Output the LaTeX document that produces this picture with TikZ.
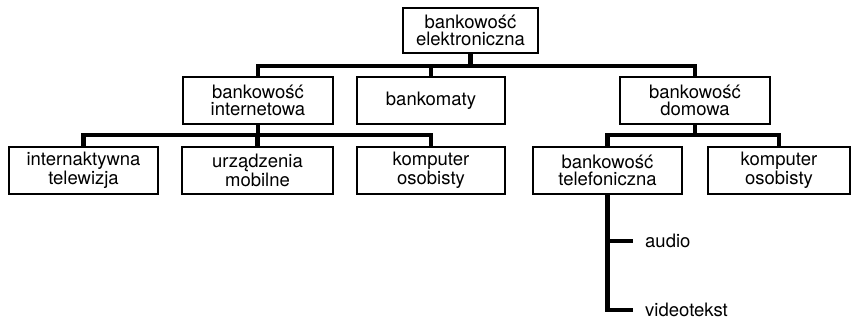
\documentclass[tikz,border=0pt]{standalone}
\usepackage{fontspec}
\setmainfont{TeX Gyre Heros}
\tikzset{
    box/.style={draw, line width=1.1pt, minimum width=150pt, minimum height=47pt,
        align=center, inner sep=0pt, font=\fontsize{18.5}{17.5}\selectfont},
    leaf/.style={anchor=west, inner sep=0pt, font=\fontsize{18.5}{17.5}\selectfont},
    bar/.style={line width=4.6pt}
}
\begin{document}
\begin{tikzpicture}[x=1pt, y=-1pt] % pixel coordinates, y downwards
    \useasboundingbox (0,0) rectangle (851,320);

    % Top of the tree
    \node[box, minimum width=135pt, minimum height=45pt] (el) at (470.5,30.5) {bankowość\\elektroniczna};

    % Second level
    \node[box] (inet) at (258,100.5) {bankowość\\internetowa};
    \node[box, minimum width=148pt] (atm) at (431,100.5) {bankomaty};
    \node[box] (dom) at (695,100.5) {bankowość\\domowa};

    % Third level
    \node[box, minimum width=149pt] (tv) at (83.5,170.5) {internaktywna\\telewizja};
    \node[box, minimum width=151pt] (mob) at (257.5,170.5) {urządzenia\\mobilne};
    \node[box, minimum width=148pt] (pc) at (431,170.5) {komputer\\osobisty};
    \node[box, minimum width=149pt] (tel) at (607.5,170.5) {bankowość\\telefoniczna};
    \node[box, minimum width=142pt] (pcdom) at (779,170.5) {komputer\\osobisty};

    % Leaves under the telephone banking
    \node[leaf] (audio) at (645,241) {audio};
    \node[leaf] (video) at (645,310) {videotekst};

    % Bars
    \coordinate (b1) at (470.5,66);
    \draw[bar] (el.south) -- (b1);
    \draw[bar] (inet.north) |- (b1) -| (dom.north);
    \draw[bar] (atm.north) -- (atm.north |- b1);

    \coordinate (b2) at (258,135);
    \draw[bar] (inet.south) -- (b2);
    \draw[bar] (tv.north) |- (b2) -| (pc.north);
    \draw[bar] (mob.north) -- (mob.north |- b2);

    \coordinate (b3) at (695,135);
    \draw[bar] (dom.south) -- (b3);
    \draw[bar] (tel.north) |- (b3) -| (pcdom.north);

    \draw[bar] (tel.south) |- ([xshift=-12pt]video.west);
    \draw[bar] (tel.south |- audio.west) -- ([xshift=-12pt]audio.west);
\end{tikzpicture}
\end{document}
